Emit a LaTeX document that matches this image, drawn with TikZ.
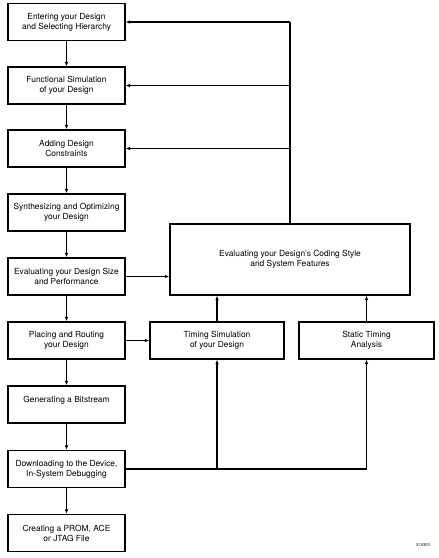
\documentclass[tikz,border=0pt]{standalone}
\usepackage{fontspec}
\setmainfont{TeX Gyre Heros}
\usetikzlibrary{arrows.meta}

\begin{document}
\begin{tikzpicture}[x=1pt,y=-1pt,line width=1.1pt,
  every node/.style={draw,align=center,inner sep=1pt,font=\fontsize{8.4}{10}\selectfont},
  flowarrow/.style={-{Latex[length=4.5pt,width=3.5pt]}}]
\useasboundingbox (0,0) rectangle (439,558);

\foreach \i/\y/\txt in {
  1/22/{Entering your Design\\and Selecting Hierarchy},
  2/85.5/{Functional Simulation\\of your Design},
  3/148.5/{Adding Design\\Constraints},
  4/212.5/{Synthesizing and Optimizing\\your Design},
  5/276.5/{Evaluating your Design Size\\and Performance},
  6/340.5/{Placing and Routing\\your Design},
  7/404.5/{Generating a Bitstream\\~},
  8/469/{Downloading to the Device,\\In-System Debugging},
  9/533/{Creating a PROM, ACE\\or JTAG File}}
  \node[minimum width=117pt,minimum height=37pt] (flow\i) at (66.5,\y) {\txt};

\node[minimum width=240pt,minimum height=71pt] (eval) at (290,259.5)
  {Evaluating your Design's Coding Style\\and System Features};
\node[minimum width=134pt,minimum height=37pt] (timing) at (217,340.5)
  {Timing Simulation\\of your Design};
\node[minimum width=135pt,minimum height=37pt] (static) at (366.5,340.5)
  {Static Timing\\Analysis};

\foreach \i [evaluate={\j=int(\i+1)}] in {1,...,8}
  \draw[flowarrow] (flow\i.south) -- (flow\j.north);

% feedback to the first three steps
\draw (eval.north) -- (eval.north |- flow1.east);
\foreach \i in {1,2,3}
  \draw[flowarrow] (eval.north |- flow\i.east) -- (flow\i.east);

\draw[flowarrow] (flow5.east) -- (flow5.east -| eval.west);
\draw[flowarrow] (flow6.east) -- (timing.west);
\draw[flowarrow] (timing.north) -- (timing.north |- eval.south);
\draw[flowarrow] (static.north) -- (static.north |- eval.south);

\draw (flow8.east) -- (flow8.east -| static.south);
\draw[flowarrow] (flow8.east -| timing.south) -- (timing.south);
\draw[flowarrow] (flow8.east -| static.south) -- (static.south);

\node[draw=none,font=\fontsize{4}{5}\selectfont] (fignum) at (423,545) {X10303};
\end{tikzpicture}
\end{document}
